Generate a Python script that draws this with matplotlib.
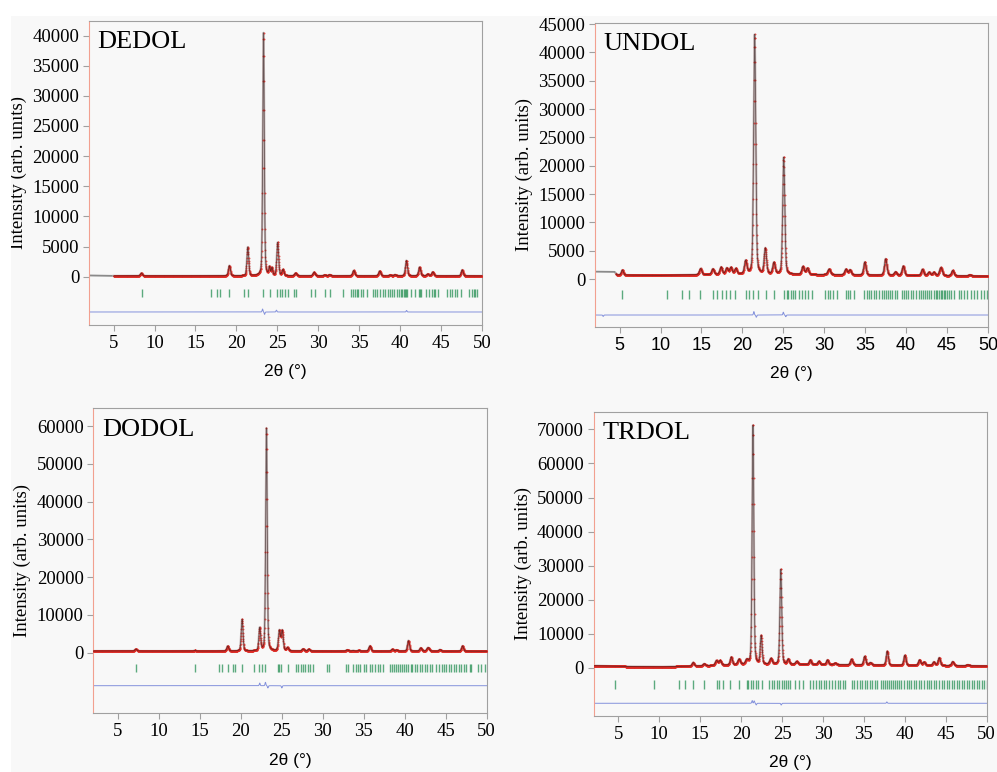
import numpy as np
import matplotlib
matplotlib.use("Agg")
import matplotlib.pyplot as plt
from matplotlib.patches import Rectangle

plt.rcParams['font.family'] = ['Liberation Serif', 'DejaVu Serif']

# peak lists: position (deg), height above background, fwhm (deg)
DEDOL_pos = [8.4, 19.15, 21.4, 23.32, 24.05, 24.35, 25.05, 25.7, 27.25, 29.5, 30.8, 31.4,
             34.35, 37.52, 38.8, 39.4, 40.78, 42.4, 43.4, 44.0, 47.6]
DEDOL_int = [450, 1700, 4750, 40300, 1300, 1200, 5500, 1000, 450, 600, 150, 200,
             900, 800, 150, 200, 2550, 1450, 300, 650, 1000]
DEDOL_fwhm = [0.28, 0.28, 0.25, 0.22, 0.2, 0.2, 0.26, 0.28, 0.3, 0.3, 0.3, 0.3,
              0.3, 0.3, 0.3, 0.3, 0.28, 0.3, 0.3, 0.3, 0.28]
DEDOL_bg_x = [2, 5, 50]
DEDOL_bg_y = [200, 130, 120]
DEDOL_refl = [8.46, 16.87, 17.6, 18.0, 19.07, 20.94, 21.43, 23.3, 24.1, 25.0, 25.3, 25.6, 25.95,
              26.3, 27.07, 27.3, 29.1, 29.6, 30.8, 31.4, 33.05, 34.07, 34.3, 34.5, 34.7, 34.9,
              35.2, 35.5, 36.0, 36.7, 37.0, 37.2, 37.5, 37.9, 38.2, 38.5, 38.8, 39.0, 39.3,
              39.6, 39.9, 40.1, 40.3, 40.5, 40.6, 40.7, 40.9, 41.3, 41.8, 42.3, 42.4, 42.6,
              43.2, 43.6, 43.9, 44.1, 44.3, 44.6, 45.8, 46.1, 46.4, 46.7, 47.0, 47.5, 48.4,
              48.8, 49.0, 49.2, 49.4]
DEDOL_diff_pos = [23.2, 23.45, 24.9, 40.8]
DEDOL_diff_amp = [500, -400, 300, 250]

UNDOL_pos = [5.35, 14.9, 16.4, 17.4, 18.1, 18.6, 19.2, 20.4, 21.5, 22.8, 23.85, 25.05, 27.4,
             27.95, 30.6, 32.65, 33.15, 34.95, 37.5, 38.7, 39.65, 42.0, 42.8, 43.4, 44.25,
             45.7, 47.8]
UNDOL_int = [900, 1100, 1000, 1300, 1100, 1200, 1000, 2300, 42300, 4500, 2000, 20700, 1400,
             1100, 1000, 1000, 900, 2300, 2900, 600, 1650, 1100, 600, 600, 1450, 950, 200]
UNDOL_fwhm = [0.3, 0.35, 0.35, 0.35, 0.35, 0.35, 0.35, 0.35, 0.3, 0.33, 0.35, 0.3, 0.35,
              0.35, 0.4, 0.35, 0.35, 0.33, 0.35, 0.35, 0.35, 0.35, 0.35, 0.35, 0.4, 0.35, 0.4]
UNDOL_bg_x = [2, 4.4, 4.7, 10, 15, 20, 25, 30, 40, 50]
UNDOL_bg_y = [1300, 1250, 700, 650, 750, 800, 800, 750, 620, 500]
UNDOL_refl = [5.29, 10.8, 12.6, 13.5, 14.8, 16.35, 16.85, 17.46, 18.0, 18.5, 19.1, 20.4, 20.85,
              21.3, 21.95, 22.85, 23.9, 25.1, 25.4, 25.6, 25.9, 26.2, 26.4, 26.9, 27.3, 27.6,
              28.0, 28.5, 30.1, 30.4, 30.7, 31.1, 31.6, 32.6, 32.9, 33.2, 33.6, 34.9, 35.23,
              35.47, 35.72, 36.05, 36.37, 36.7, 37.1, 37.27, 37.5, 37.76, 38.0, 38.3, 38.58,
              38.9, 39.5, 39.72, 39.97, 40.2, 40.54, 40.87, 41.15, 41.56, 41.77, 42.0, 42.25,
              42.58, 42.83, 43.07, 43.4, 43.6, 43.8, 44.0, 44.2, 44.4, 44.6, 44.8, 45.03,
              45.24, 45.44, 45.85, 46.46, 46.75, 47.08, 47.48, 47.9, 48.3, 48.7, 49.1, 49.5,
              49.85]
UNDOL_diff_pos = [3.0, 21.4, 21.7, 25.0, 25.3]
UNDOL_diff_amp = [-250, 600, -400, 500, -300]

DODOL_pos = [7.2, 14.4, 18.4, 20.15, 22.3, 23.12, 24.7, 25.05, 25.7, 27.6, 28.3, 33.0, 33.7,
             34.4, 35.75, 38.5, 39.0, 40.45, 41.95, 42.85, 44.3, 47.05]
DODOL_int = [500, 150, 1300, 8400, 6000, 59100, 5300, 5300, 850, 550, 500, 300, 150,
             200, 1400, 480, 300, 2800, 850, 950, 400, 1400]
DODOL_fwhm = [0.3, 0.3, 0.28, 0.25, 0.25, 0.22, 0.28, 0.28, 0.3, 0.3, 0.3, 0.35, 0.3,
              0.3, 0.3, 0.3, 0.3, 0.28, 0.3, 0.35, 0.3, 0.28]
DODOL_bg_x = [2, 50]
DODOL_bg_y = [400, 350]
DODOL_refl = [7.2, 14.37, 17.3, 17.67, 18.4, 19.0, 19.3, 20.1, 21.58, 22.27, 22.6, 22.96,
              24.55, 24.7, 24.9, 25.7, 26.75, 27.0, 27.3, 27.57, 27.85, 28.2, 28.46, 28.8,
              30.5, 30.74, 32.8, 33.1, 33.7, 34.0, 34.3, 34.57, 34.98, 35.3, 35.7, 36.0,
              36.4, 36.7, 37.0, 37.34, 38.16, 38.4, 38.65, 38.9, 39.18, 39.46, 39.7, 39.95,
              40.2, 40.44, 40.7, 40.93, 41.2, 41.5, 41.8, 42.15, 42.43, 42.72, 43.04, 43.37,
              43.86, 44.2, 44.5, 44.76, 45.08, 45.4, 45.7, 45.98, 46.3, 46.63, 46.9, 47.2,
              47.53, 47.93, 48.14, 48.95, 49.36, 49.77]
DODOL_diff_pos = [22.3, 23.0, 23.3, 25.0]
DODOL_diff_amp = [700, 900, -600, -600]

TRDOL_pos = [14.15, 15.5, 17.0, 17.45, 18.8, 19.75, 20.7, 21.45, 22.45, 23.65, 24.85, 25.76,
             26.8, 28.45, 29.5, 30.55, 31.5, 33.5, 35.1, 35.8, 37.85, 40.0, 41.8, 42.35,
             43.55, 44.2, 45.85, 47.7]
TRDOL_int = [1050, 600, 1400, 1400, 2300, 1600, 1200, 70600, 8300, 1700, 28000, 1500,
             850, 1350, 1000, 1400, 500, 1650, 2550, 700, 4100, 2950, 1600, 1000,
             1050, 2300, 1200, 300]
TRDOL_fwhm = [0.3, 0.3, 0.35, 0.35, 0.3, 0.35, 0.35, 0.24, 0.26, 0.35, 0.26, 0.3,
              0.35, 0.3, 0.3, 0.3, 0.35, 0.33, 0.3, 0.35, 0.3, 0.3, 0.33, 0.35,
              0.33, 0.33, 0.33, 0.4]
TRDOL_bg_x = [2, 6, 10, 13, 17, 20, 27, 32, 37, 42, 50]
TRDOL_bg_y = [650, 400, 300, 450, 700, 900, 1000, 900, 800, 700, 550]
TRDOL_refl = [4.63, 9.37, 12.44, 13.17, 14.07, 15.5, 17.0, 17.34, 17.75, 18.65, 19.7, 20.7,
              20.9, 21.18, 21.5, 21.8, 22.04, 22.53, 23.43, 23.76, 24.04, 24.37, 24.66,
              24.94, 25.19, 25.47, 25.68, 25.92, 26.62, 27.03, 27.52, 28.46, 28.78, 29.15,
              29.47, 29.8, 30.09, 30.42, 30.75, 31.11, 31.44, 31.81, 32.14, 32.46, 32.75,
              33.57, 33.85, 34.18, 34.5, 34.79, 35.08, 35.4, 35.73, 36.0, 36.3, 36.55,
              37.12, 37.37, 37.61, 37.86, 38.1, 38.35, 38.6, 38.84, 39.08, 39.33, 39.57,
              39.9, 40.23, 40.51, 40.8, 41.13, 41.41, 41.74, 42.02, 42.35, 42.68, 42.96,
              43.25, 43.58, 43.86, 44.19, 44.48, 44.8, 45.13, 45.42, 45.7, 46.03, 46.32,
              46.64, 46.93, 47.26, 47.58, 47.87, 48.15, 48.48, 48.81, 49.09, 49.38, 49.71,
              50.0]
TRDOL_diff_pos = [21.35, 21.6, 21.85, 24.9, 37.8]
TRDOL_diff_amp = [800, 700, -500, -500, 400]


def pv(x, pos, amp, fwhm, eta=0.3):
    y = np.zeros_like(x)
    for p, a, w in zip(pos, amp, fwhm):
        d = (x - p) / w
        g = np.exp(-4 * np.log(2) * d ** 2)
        l = 1 / (1 + 4 * d ** 2)
        y += a * (eta * l + (1 - eta) * g)
    return y


panels = [
    dict(name="DEDOL", pos=DEDOL_pos, amp=DEDOL_int, fw=DEDOL_fwhm, bgx=DEDOL_bg_x, bgy=DEDOL_bg_y,
         refl=DEDOL_refl, dpos=DEDOL_diff_pos, damp=DEDOL_diff_amp, excl=5.0,
         rect=[0.0893, 0.579, 0.394, 0.394], ylim=(-8020, 42440), ymax=40000, ystep=5000,
         tick=(-3440, -2040), doff=-5860, xsans=False),
    dict(name="UNDOL", pos=UNDOL_pos, amp=UNDOL_int, fw=UNDOL_fwhm, bgx=UNDOL_bg_x, bgy=UNDOL_bg_y,
         refl=UNDOL_refl, dpos=UNDOL_diff_pos, damp=UNDOL_diff_amp, excl=4.55,
         rect=[0.5968, 0.5764, 0.3942, 0.3942], ylim=(-8470, 45230), ymax=45000, ystep=5000,
         tick=(-3530, -1940), doff=-6350, xsans=True),
    dict(name="DODOL", pos=DODOL_pos, amp=DODOL_int, fw=DODOL_fwhm, bgx=DODOL_bg_x, bgy=DODOL_bg_y,
         refl=DODOL_refl, dpos=DODOL_diff_pos, damp=DODOL_diff_amp, excl=None,
         rect=[0.0936, 0.0760, 0.3946, 0.3951], ylim=(-16130, 64770), ymax=60000, ystep=10000,
         tick=(-5090, -3050), doff=-8800, xsans=False),
    dict(name="TRDOL", pos=TRDOL_pos, amp=TRDOL_int, fw=TRDOL_fwhm, bgx=TRDOL_bg_x, bgy=TRDOL_bg_y,
         refl=TRDOL_refl, dpos=TRDOL_diff_pos, damp=TRDOL_diff_amp, excl=None,
         rect=[0.5955, 0.0725, 0.3942, 0.3942], ylim=(-14130, 75200), ymax=70000, ystep=10000,
         tick=(-6180, -3530), doff=-10390, xsans=False),
]

fig = plt.figure(figsize=(9.97, 7.72), dpi=100)
fig.patch.set_facecolor('#f8f8f8')
fig.patches.append(Rectangle((0, 1 - 16 / 772), 1, 16 / 772, transform=fig.transFigure,
                             facecolor='white', edgecolor='none'))
fig.patches.append(Rectangle((0, 0), 11 / 997, 1, transform=fig.transFigure,
                             facecolor='white', edgecolor='none'))

x = np.arange(2.0, 50.001, 0.02)

for p in panels:
    ax = fig.add_axes(p['rect'])
    ax.set_facecolor('#f8f8f8')

    calc = np.interp(x, p['bgx'], p['bgy']) + pv(x, p['pos'], p['amp'], p['fw'])
    if p['excl'] is not None:
        m = x >= p['excl']
        ax.plot(x[~m], calc[~m], color='#8a8a8a', lw=1.3, zorder=2)
    else:
        m = np.ones_like(x, dtype=bool)
    # observed: pale band with small red dots, calculated: thin dark line
    ax.plot(x[m], calc[m], color='#c4b4b4', lw=1.6, zorder=2)
    ax.plot(x[m], calc[m], 'o', ms=1.4, color='#de2a24', alpha=0.75, mec='none', zorder=3)
    ax.plot(x[m], calc[m], color='#2a1a1a', lw=0.6, alpha=0.6, zorder=4)

    ax.vlines(p['refl'], p['tick'][0], p['tick'][1], color='#1a8a4a', lw=1.0, alpha=0.7)

    diff = p['doff'] + pv(x, p['dpos'], p['damp'], [0.12] * len(p['dpos']), eta=0.2)
    ax.plot(x, diff, color='#8492dc', lw=0.7)

    ax.set_xlim(2, 50)
    ax.set_ylim(*p['ylim'])
    ax.set_xticks(range(5, 51, 5))
    ax.set_yticks(range(0, p['ymax'] + 1, p['ystep']))
    for s in ['top', 'right', 'bottom']:
        ax.spines[s].set_color('#a0a0a0')
    ax.spines['left'].set_color('#f2a090')
    ax.tick_params(axis='both', direction='out', length=4, width=0.8, color='#a0a0a0',
                   labelsize=13.5, pad=3)
    if p['xsans']:
        for t in ax.get_xticklabels():
            t.set_fontfamily(['Liberation Sans', 'DejaVu Sans'])
            t.set_fontsize(13)

    ax.set_ylabel("Intensity (arb. units)", fontsize=13.5, labelpad=4)
    ax.set_xlabel("2θ (°)", fontsize=12.5, family=['Liberation Sans', 'DejaVu Sans'], labelpad=9)
    ax.text(0.022, 0.965, p['name'], transform=ax.transAxes, fontsize=19, va='top', ha='left')

fig.savefig("out.png", dpi=100, facecolor=fig.get_facecolor())
